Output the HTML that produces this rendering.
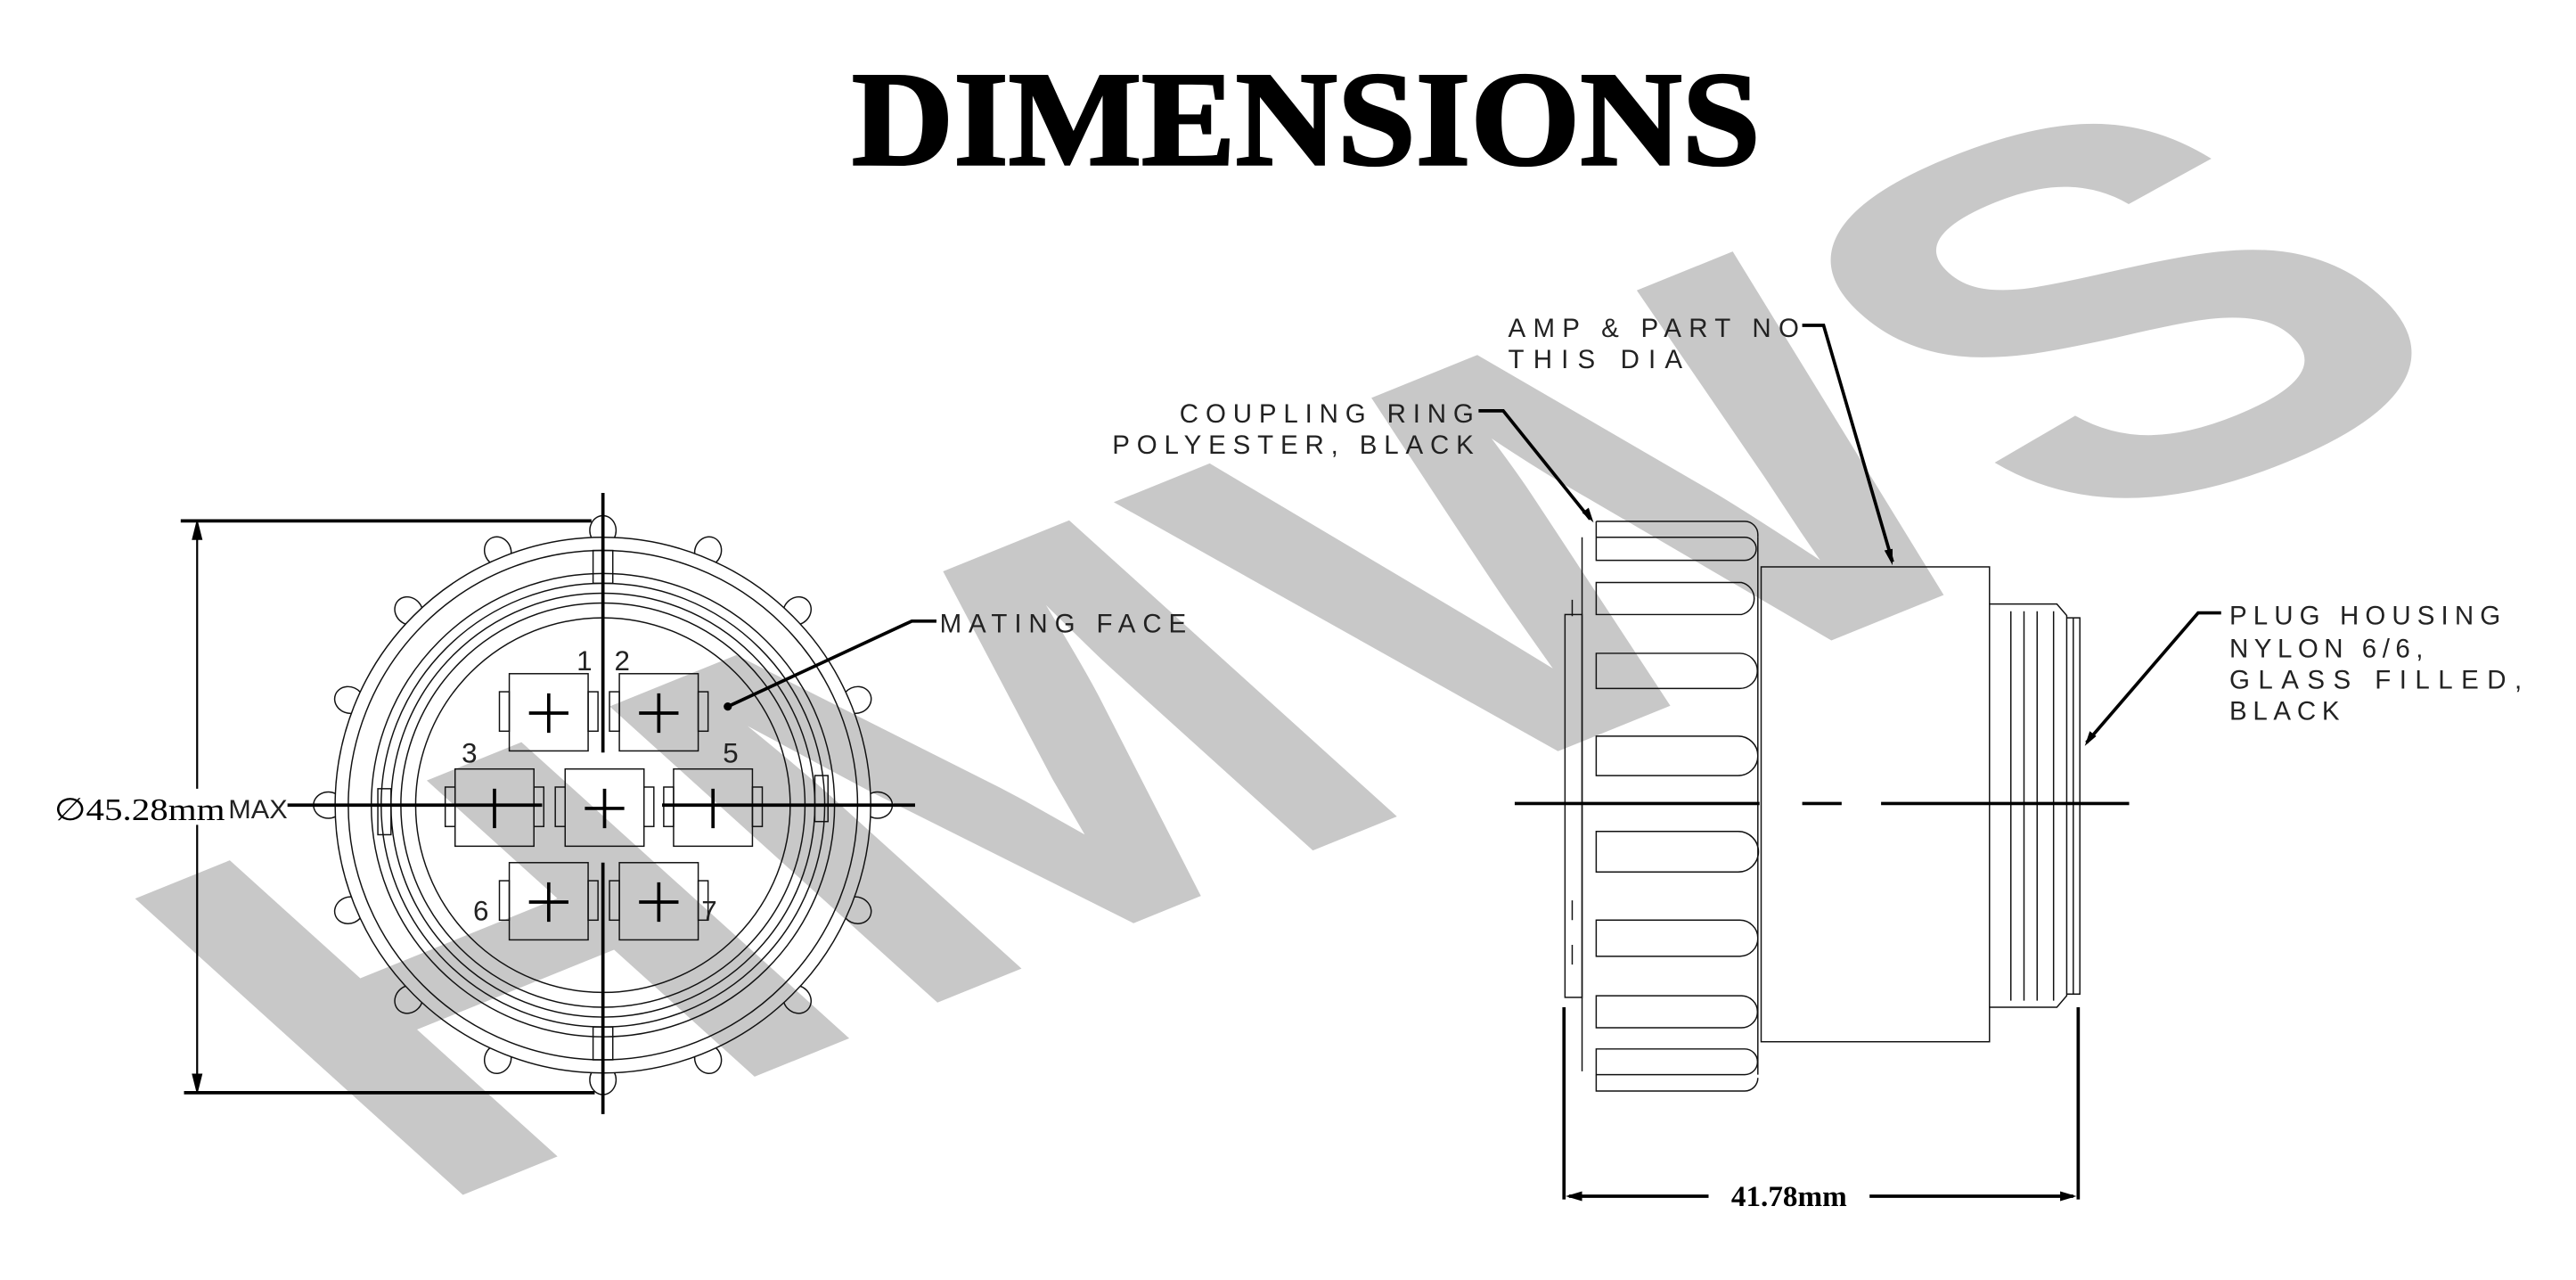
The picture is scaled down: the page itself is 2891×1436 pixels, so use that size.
<!DOCTYPE html>
<html><head><meta charset="utf-8"><style>
html,body{margin:0;padding:0;background:#fff;}
svg{display:block;}
.lb{font-family:"Liberation Sans","DejaVu Sans",sans-serif;font-size:16px;fill:#222;}
</style></head><body>
<svg width="2891" height="1436" viewBox="0 0 1568 779" preserveAspectRatio="none" xmlns="http://www.w3.org/2000/svg">
<rect width="1568" height="779" fill="#fff"/>
<!-- watermark -->
<text transform="matrix(4.0,-1.62,2.9,2.62,255,738)" x="0" y="0" font-family="Liberation Sans, sans-serif" font-weight="bold" font-size="100" fill="#c8c8c8">HMWS</text>

<!-- title -->
<text x="795" y="100" text-anchor="middle" font-family="Liberation Serif, serif" font-weight="bold" font-size="82" textLength="553" lengthAdjust="spacingAndGlyphs" fill="#000" stroke="#000" stroke-width="1.5">DIMENSIONS</text>

<!-- LEFT VIEW -->
<g fill="none" stroke="#111" stroke-width="0.8">
<g transform="translate(367,490)">
<circle r="163"/><circle r="155"/><circle r="141"/><circle r="135"/><circle r="129"/><circle r="123"/><circle r="114"/>
<g>
<path d="M-7 -162.8 A8 9 0 1 1 7 -162.8" transform="rotate(0)"/>
<path d="M-7 -162.8 A8 9 0 1 1 7 -162.8" transform="rotate(22.5)"/>
<path d="M-7 -162.8 A8 9 0 1 1 7 -162.8" transform="rotate(45)"/>
<path d="M-7 -162.8 A8 9 0 1 1 7 -162.8" transform="rotate(67.5)"/>
<path d="M-7 -162.8 A8 9 0 1 1 7 -162.8" transform="rotate(90)"/>
<path d="M-7 -162.8 A8 9 0 1 1 7 -162.8" transform="rotate(112.5)"/>
<path d="M-7 -162.8 A8 9 0 1 1 7 -162.8" transform="rotate(135)"/>
<path d="M-7 -162.8 A8 9 0 1 1 7 -162.8" transform="rotate(157.5)"/>
<path d="M-7 -162.8 A8 9 0 1 1 7 -162.8" transform="rotate(180)"/>
<path d="M-7 -162.8 A8 9 0 1 1 7 -162.8" transform="rotate(202.5)"/>
<path d="M-7 -162.8 A8 9 0 1 1 7 -162.8" transform="rotate(225)"/>
<path d="M-7 -162.8 A8 9 0 1 1 7 -162.8" transform="rotate(247.5)"/>
<path d="M-7 -162.8 A8 9 0 1 1 7 -162.8" transform="rotate(270)"/>
<path d="M-7 -162.8 A8 9 0 1 1 7 -162.8" transform="rotate(292.5)"/>
<path d="M-7 -162.8 A8 9 0 1 1 7 -162.8" transform="rotate(315)"/>
<path d="M-7 -162.8 A8 9 0 1 1 7 -162.8" transform="rotate(337.5)"/>
</g>
<rect x="-6" y="-155" width="12" height="20"/><rect x="-6" y="135" width="12" height="20"/>
<rect x="-137" y="-10" width="8" height="28"/><rect x="129" y="-18" width="8" height="28"/>
</g>
<g>
<rect x="310" y="410" width="48" height="47"/><rect x="304" y="421" width="6" height="24"/><rect x="358" y="421" width="6" height="24"/>
<rect x="377" y="410" width="48" height="47"/><rect x="371" y="421" width="6" height="24"/><rect x="425" y="421" width="6" height="24"/>
<rect x="277" y="468" width="48" height="47"/><rect x="271" y="479" width="6" height="24"/><rect x="325" y="479" width="6" height="24"/>
<rect x="344" y="468" width="48" height="47"/><rect x="338" y="479" width="6" height="24"/><rect x="392" y="479" width="6" height="24"/>
<rect x="410" y="468" width="48" height="47"/><rect x="404" y="479" width="6" height="24"/><rect x="458" y="479" width="6" height="24"/>
<rect x="310" y="525" width="48" height="47"/><rect x="304" y="536" width="6" height="24"/><rect x="358" y="536" width="6" height="24"/>
<rect x="377" y="525" width="48" height="47"/><rect x="371" y="536" width="6" height="24"/><rect x="425" y="536" width="6" height="24"/>
</g>
</g>
<g stroke="#000" stroke-width="2" fill="none">
<path d="M334 422v24M322 434h24"/><path d="M401 422v24M389 434h24"/>
<path d="M301 480v24"/><path d="M368 480v24M356 492h24"/><path d="M434 480v24"/>
<path d="M334 537v24M322 549h24"/><path d="M401 537v24M389 549h24"/>
<path d="M367 300V458M367 525V678"/>
<path d="M175 490H330M403 490H557"/>
<path d="M110 317H360M112 665H362"/>
<path d="M443 430L555 378H570"/>
</g>
<circle cx="443" cy="430" r="2.5" fill="#000"/>
<g stroke="#000" stroke-width="1.2" fill="#000">
<path d="M120 320V480M120 502V662" fill="none"/>
<path d="M120 318l-2.5 10h5z"/><path d="M120 664l-2.5 -10h5z"/>
</g>
<g class="lb" style="font-size:17px">
<text x="351" y="408">1</text><text x="374" y="408">2</text>
<text x="281" y="464">3</text><text x="440" y="464">5</text>
<text x="288" y="560">6</text><text x="427" y="560">7</text>
</g>
<text x="33" y="499" font-family="Liberation Serif, serif" font-size="19" textLength="104" lengthAdjust="spacingAndGlyphs">∅45.28mm</text>
<text x="139" y="498" class="lb" font-size="16" textLength="36" lengthAdjust="spacingAndGlyphs">MAX</text>
<text x="572" y="385" class="lb" textLength="150" lengthAdjust="spacing">MATING FACE</text>

<!-- RIGHT VIEW -->
<g fill="none" stroke="#111" stroke-width="0.8">
<rect x="952.6" y="374" width="10.4" height="233"/>
<path d="M963 327V652"/>
<path d="M971.6 317.3H1062a8 8 0 0 1 8 8V327"/>
<path d="M971.6 317.3V327M971.6 327H1062a7 7 0 0 1 0 14H971.6V327"/>
<path d="M971.6 354.5H1060a10 10 0 0 1 0 19.5H971.6Z"/>
<path d="M971.6 397.6H1059a10.7 10.7 0 0 1 0 21.4H971.6Z"/>
<path d="M971.6 448H1058a12 12 0 0 1 0 24H971.6Z"/>
<path d="M971.6 506H1058a12.3 12.3 0 0 1 0 24.7H971.6Z"/>
<path d="M971.6 560H1059a11 11 0 0 1 0 22H971.6Z"/>
<path d="M971.6 606H1060a9.7 9.7 0 0 1 0 19.5H971.6Z"/>
<path d="M971.6 638.4H1062a7.8 7.8 0 0 1 0 15.6H971.6Z"/>
<path d="M971.6 654V664H1062a8 8 0 0 0 8 -8"/>
<path d="M1070 327V654"/>
<path d="M957 365v10M957 548v12M957 575v12"/>
<rect x="1072" y="345" width="139" height="289"/>
<path d="M1211 367.6H1252l6 7V606l-6 7H1211"/>
<path d="M1258 376H1266V605H1258"/>
<path d="M1224 372V609M1232 372V609M1240 372V609M1250 372V609M1262 376V605"/>
</g>
<g stroke="#000" stroke-width="2" fill="none">
<path d="M922 489H1071M1097 489H1121M1145 489H1296"/>
<path d="M952 613V730M1265 613V730"/>
<path d="M955 728H1040M1138 728H1262"/>
<path d="M1097 198H1110L1152 342"/>
<path d="M900 250H915L968 316"/>
<path d="M1352 373H1338L1270 452"/>
</g>
<g fill="#000">
<path d="M953 728l10 -3v6z"/><path d="M1264 728l-10 -3v6z"/>
<path d="M1152 344l-5 -9 5 -1z"/><path d="M970 318l-7 -6 4 -3z"/><path d="M1269 454l3 -9 4 3z"/>
</g>
<text x="1089" y="734" text-anchor="middle" font-family="Liberation Serif, serif" font-weight="bold" font-size="18">41.78mm</text>
<g class="lb">
<text x="918" y="205" textLength="177" lengthAdjust="spacing">AMP &amp; PART NO</text>
<text x="918" y="224" textLength="106" lengthAdjust="spacing">THIS DIA</text>
<text x="718" y="257" textLength="179" lengthAdjust="spacing">COUPLING RING</text>
<text x="677" y="276" textLength="220" lengthAdjust="spacing">POLYESTER, BLACK</text>
<text x="1357" y="380" textLength="165" lengthAdjust="spacing">PLUG HOUSING</text>
<text x="1357" y="400" textLength="118" lengthAdjust="spacing">NYLON 6/6,</text>
<text x="1357" y="419" textLength="178" lengthAdjust="spacing">GLASS FILLED,</text>
<text x="1357" y="438" textLength="67" lengthAdjust="spacing">BLACK</text>
</g>
</svg>
</body></html>
